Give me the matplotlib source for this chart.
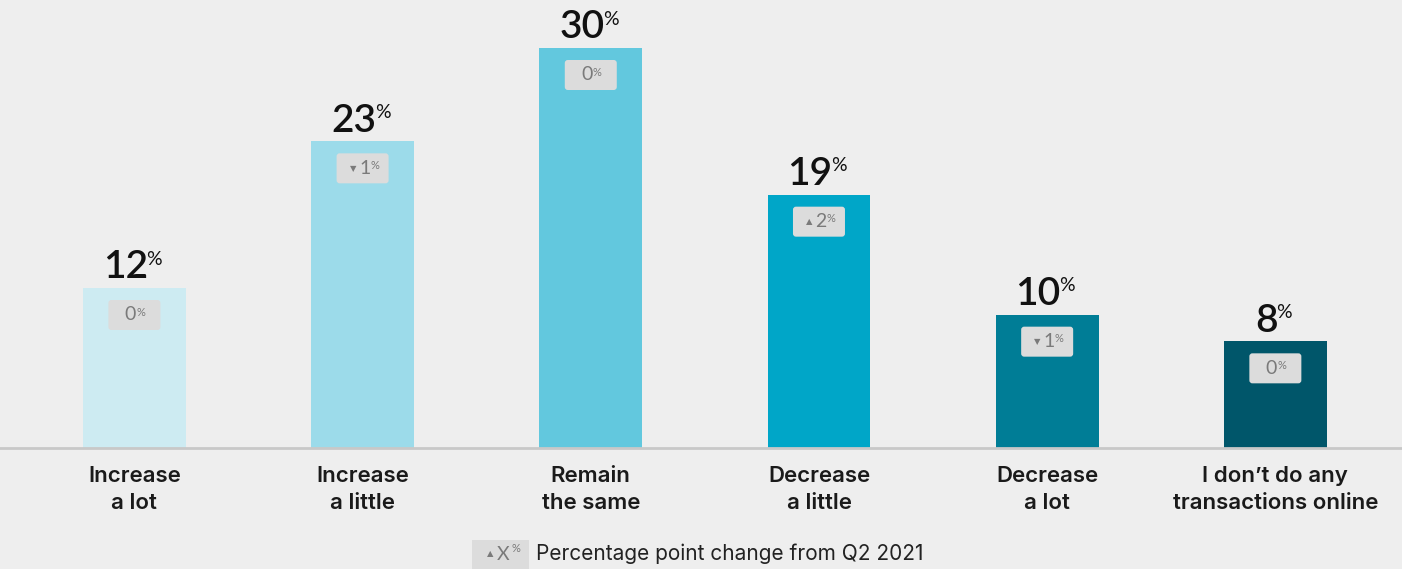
import numpy as np
import matplotlib.pyplot as plt
from matplotlib.patches import FancyBboxPatch, Rectangle

categories = ["Increase\na lot", "Increase\na little", "Remain\nthe same",
              "Decrease\na little", "Decrease\na lot", "I don\u2019t do any\ntransactions online"]
values = [12, 23, 30, 19, 10, 8]
changes = [0, -1, 0, 2, -1, 0]
colors = ["#cdebf2", "#9cdbea", "#62c8de", "#00a6c8", "#007d96", "#00566a"]

BG = "#eeeeee"
plt.rcParams['font.family'] = ['Lato', 'DejaVu Sans']
LABEL_FONT = ['Inter', 'DejaVu Sans']

fig = plt.figure(figsize=(14.02, 5.69), dpi=100, facecolor=BG)
ax = fig.add_axes([0, 121 / 569, 1, 448 / 569])
ax.set_facecolor(BG)
ax.set_xlim(-0.589, 5.555)
ax.set_ylim(0, 33.6)
ax.axis('off')

x = np.arange(len(values))
ax.bar(x, values, width=0.451, color=colors, zorder=2)
ax.axhline(0, color="#c8c8c8", lw=2, zorder=3, clip_on=False)

# pixel -> data scale factors
px_x = (5.555 + 0.589) / 1402
px_y = 33.6 / 448

for i, v in enumerate(values):
    # value label with superscript %
    num = ax.annotate(str(v), (i, v), xytext=(-6.5, 7), textcoords='offset points',
                      ha='center', va='baseline', fontsize=28, fontweight='semibold', color='#111111')
    ax.annotate('%', xy=(1, 1), xycoords=num, xytext=(-1, -1), textcoords='offset points',
                ha='left', va='top', fontsize=14, color='#111111')

    # change box
    bw, bh = 52 * px_x, 30 * px_y
    top = v - 12 * px_y
    box = FancyBboxPatch((i - bw / 2, top - bh), bw, bh,
                         boxstyle="round,pad=0,rounding_size=%f" % (3 * px_x),
                         mutation_aspect=px_y / px_x,
                         fc="#dcdcdc", ec="none", zorder=4)
    ax.add_patch(box)
    c = changes[i]
    cy = top - bh / 2
    dx = 2 if c != 0 else -4
    t = ax.annotate(str(abs(c)), (i, cy), xytext=(dx * 0.72, 0), textcoords='offset points',
                    ha='center', va='center', fontsize=14, color='#7a7a7a', zorder=5)
    ax.annotate('%', xy=(1, 1), xycoords=t, xytext=(0, 0), textcoords='offset points',
                ha='left', va='top', fontsize=8, color='#7a7a7a', zorder=5)
    if c != 0:
        tri = '\u25b2' if c > 0 else '\u25bc'
        ax.annotate(tri, xy=(0, 0.5), xycoords=t, xytext=(-2, 0), textcoords='offset points',
                    ha='right', va='center', fontsize=6, color='#7a7a7a',
                    family='DejaVu Sans', zorder=5)

    # category label
    ax.annotate(categories[i], (i, 0), xytext=(0, -13), textcoords='offset points',
                ha='center', va='top', fontsize=16, fontweight='semibold', family=LABEL_FONT,
                color='#1a1a1a', linespacing=1.45)

# legend at the bottom
fig.patches.append(Rectangle((472 / 1402, 0), 57 / 1402, 29 / 569, transform=fig.transFigure,
                             fc="#dcdcdc", ec="none"))
fig.text(503 / 1402, 15 / 569, 'X', ha='center', va='center', fontsize=14, color='#7a7a7a')
fig.text(490 / 1402, 15 / 569, '\u25b2', ha='center', va='center', fontsize=6,
         color='#7a7a7a', family='DejaVu Sans')
fig.text(511 / 1402, 21 / 569, '%', ha='left', va='center', fontsize=8, color='#7a7a7a')
fig.text(536 / 1402, 15 / 569, 'Percentage point change from Q2 2021', ha='left',
         va='center', fontsize=15, family=LABEL_FONT, color='#222222')

fig.savefig('out.png', dpi=100, facecolor=BG)
